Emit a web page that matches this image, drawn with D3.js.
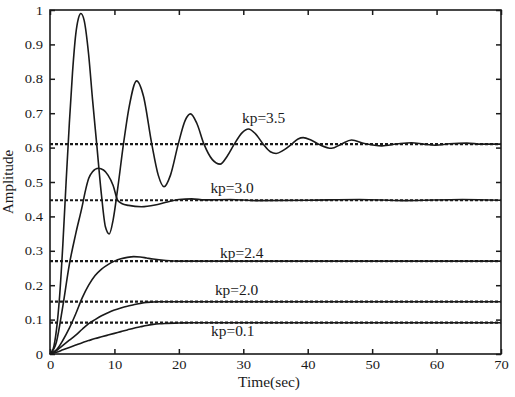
<!DOCTYPE html>
<html>
<head>
<meta charset="utf-8">
<script src="https://cdn.jsdelivr.net/npm/d3@7"></script>
<style>
  html, body { margin: 0; padding: 0; background: #fff; }
  svg { display: block; }
  text { font-family: "Liberation Serif", "Times New Roman", serif; fill: #1a1a1a; }
</style>
</head>
<body>
<svg id="chart" width="515" height="397"></svg>
<script>
// ---- data: [time (sec), amplitude] ----
const kp35 = [[0,0],[0.5,0.015],[1,0.07],[1.5,0.17],[2,0.32],[2.5,0.5],[3,0.67],[3.5,0.82],[4,0.93],[4.4,0.975],[4.8,0.99],
  [5.3,0.97],[6,0.87],[6.6,0.74],[7.25,0.61],[8,0.46],[8.6,0.37],[9.2,0.349],[9.8,0.39],[10.5,0.48],[11.4,0.61],[12.3,0.72],
  [13.45,0.794],[14.5,0.75],[15.8,0.61],[16.8,0.52],[17.7,0.486],[18.7,0.52],[19.9,0.61],[21,0.68],[21.8,0.698],[22.8,0.67],
  [23.9,0.61],[25.2,0.565],[26.4,0.552],[27.5,0.575],[28.6,0.61],[29.8,0.643],[30.8,0.654],[31.9,0.64],[33.1,0.61],[34.2,0.588],
  [35.1,0.583],[36.2,0.592],[37.5,0.61],[38.5,0.625],[39.3,0.629],[40.5,0.622],[41.9,0.608],[43.7,0.598],[45.2,0.61],[46.8,0.622],
  [48.8,0.612],[51.5,0.605],[54,0.611],[56.1,0.614],[58,0.61],[59.8,0.607],[62,0.611],[64.7,0.613],[67,0.61],[70,0.61]];
const kp30 = [[0,0],[1,0.035],[2,0.14],[3,0.26],[4,0.35],[5,0.43],[5.5,0.475],[6,0.51],[6.6,0.53],[7.5,0.54],[8.3,0.535],[9,0.52],
  [9.8,0.49],[10.5,0.447],[11.2,0.437],[12.2,0.432],[14.2,0.428],[16.3,0.433],[18,0.441],[20,0.449],[22,0.451],[24,0.448],
  [28,0.449],[32,0.446],[40,0.447],[48,0.449],[55,0.446],[64,0.449],[70,0.447]];
const kp24 = [[0,0],[1,0.012],[2,0.04],[3,0.075],[4,0.117],[5,0.163],[6,0.2],[7,0.228],[8,0.247],[9,0.26],[10,0.27],[11,0.277],
  [12,0.281],[13,0.283],[14,0.282],[15,0.279],[16,0.276],[18,0.272],[20,0.27],[70,0.27]];
const kp20 = [[0,0],[1,0.01],[2,0.025],[3,0.04],[4,0.055],[5,0.072],[6,0.088],[7,0.1],[8,0.111],[9,0.12],[10,0.128],[11,0.134],
  [12,0.139],[13,0.143],[14,0.147],[15,0.15],[16,0.151],[17,0.152],[70,0.152]];
const kp01 = [[0,0],[1,0.005],[2,0.012],[3,0.019],[4,0.026],[5,0.033],[6,0.039],[7,0.045],[8,0.05],[9,0.055],[10,0.06],[11,0.065],
  [12,0.07],[13,0.075],[14,0.079],[15,0.083],[16,0.086],[17,0.088],[18,0.089],[20,0.09],[22,0.091],[70,0.091]];

const setpoints = [0.61, 0.447, 0.27, 0.152, 0.091];          // dashed steady-state levels
const labelTexts = ["kp=3.5", "kp=3.0", "kp=2.4", "kp=2.0", "kp=0.1"];
const labelAnchors = [[29.8,0.672],[24.9,0.469],[26.4,0.278],[25.6,0.1715],[25.0,0.052]]; // [t, A] of label start/baseline

const xTicks = [0,10,20,30,40,50,60,70];
const xTickLabels = ["0","10","20","30","40","50","60","70"];
const yTicks = [0,0.1,0.2,0.3,0.4,0.5,0.6,0.7,0.8,0.9,1];
const yTickLabels = ["0","0.1","0.2","0.3","0.4","0.5","0.6","0.7","0.8","0.9","1"];

const xTitle = "Time(sec)";
const yTitle = "Amplitude";

// ---- layout ----
const L = 50, R = 501, T = 10, B = 354;
const svg = d3.select("#chart");
const x = d3.scaleLinear().domain([0,70]).range([L,R]);
const y = d3.scaleLinear().domain([0,1]).range([B,T]);
const ink = "#1a1a1a";

function stretch(sel, f) {
  sel.each(function() {
    const w = this.getComputedTextLength();
    d3.select(this).attr("textLength", w*f).attr("lengthAdjust", "spacingAndGlyphs");
  });
}

// dashed set-point lines (under the curves)
svg.append("g").selectAll("line").data(setpoints).join("line")
  .attr("x1", x(0)).attr("x2", x(70))
  .attr("y1", d => y(d)).attr("y2", d => y(d))
  .attr("stroke", ink).attr("stroke-width", 2.2).attr("stroke-dasharray", "3,2");

// curves
const line = d3.line().x(d => x(d[0])).y(d => y(d[1])).curve(d3.curveMonotoneX);
svg.append("g").selectAll("path").data([kp01, kp20, kp24, kp30, kp35]).join("path")
  .attr("d", line).attr("fill", "none").attr("stroke", ink).attr("stroke-width", 1.6)
  .attr("stroke-linejoin", "round");

// axes
const fmtX = d => xTickLabels[xTicks.indexOf(d)];
const fmtY = (d, i) => yTickLabels[i];
const gB = svg.append("g").attr("transform", `translate(0,${B})`)
  .call(d3.axisBottom(x).tickValues(xTicks).tickFormat(fmtX).tickSizeInner(-5).tickSizeOuter(0).tickPadding(6));
const gL = svg.append("g").attr("transform", `translate(${L},0)`)
  .call(d3.axisLeft(y).tickValues(yTicks).tickFormat(fmtY).tickSizeInner(-5).tickSizeOuter(0).tickPadding(7));
const gT = svg.append("g").attr("transform", `translate(0,${T})`)
  .call(d3.axisTop(x).tickValues(xTicks).tickFormat("").tickSizeInner(-5).tickSizeOuter(0));
const gR = svg.append("g").attr("transform", `translate(${R},0)`)
  .call(d3.axisRight(y).tickValues(yTicks).tickFormat("").tickSizeInner(-5).tickSizeOuter(0));
[gB, gL, gT, gR].forEach(g => {
  g.select(".domain").remove();
  g.selectAll(".tick line").attr("stroke", ink).attr("stroke-width", 1.5);
  g.selectAll("text").attr("font-size", 13).attr("font-family", "Liberation Serif").attr("fill", ink);
});
stretch(gB.selectAll("text"), 1.12);
stretch(gL.selectAll("text"), 1.12);

// frame
svg.append("rect").attr("x", L).attr("y", T).attr("width", R-L).attr("height", B-T)
  .attr("fill", "none").attr("stroke", ink).attr("stroke-width", 1.6);

// curve labels
const lab = svg.append("g").selectAll("text").data(labelTexts).join("text")
  .attr("x", (d,i) => x(labelAnchors[i][0])).attr("y", (d,i) => y(labelAnchors[i][1]))
  .attr("font-size", 14).text(d => d);
stretch(lab, 1.1);

// axis titles
const xt = svg.append("text").attr("x", 269).attr("y", 387).attr("text-anchor", "middle")
  .attr("font-size", 14).text(xTitle);
stretch(xt, 1.1);
svg.append("text").attr("transform", "translate(13,182) rotate(-90)").attr("text-anchor", "middle")
  .attr("font-size", 15).text(yTitle);
</script>
</body>
</html>
